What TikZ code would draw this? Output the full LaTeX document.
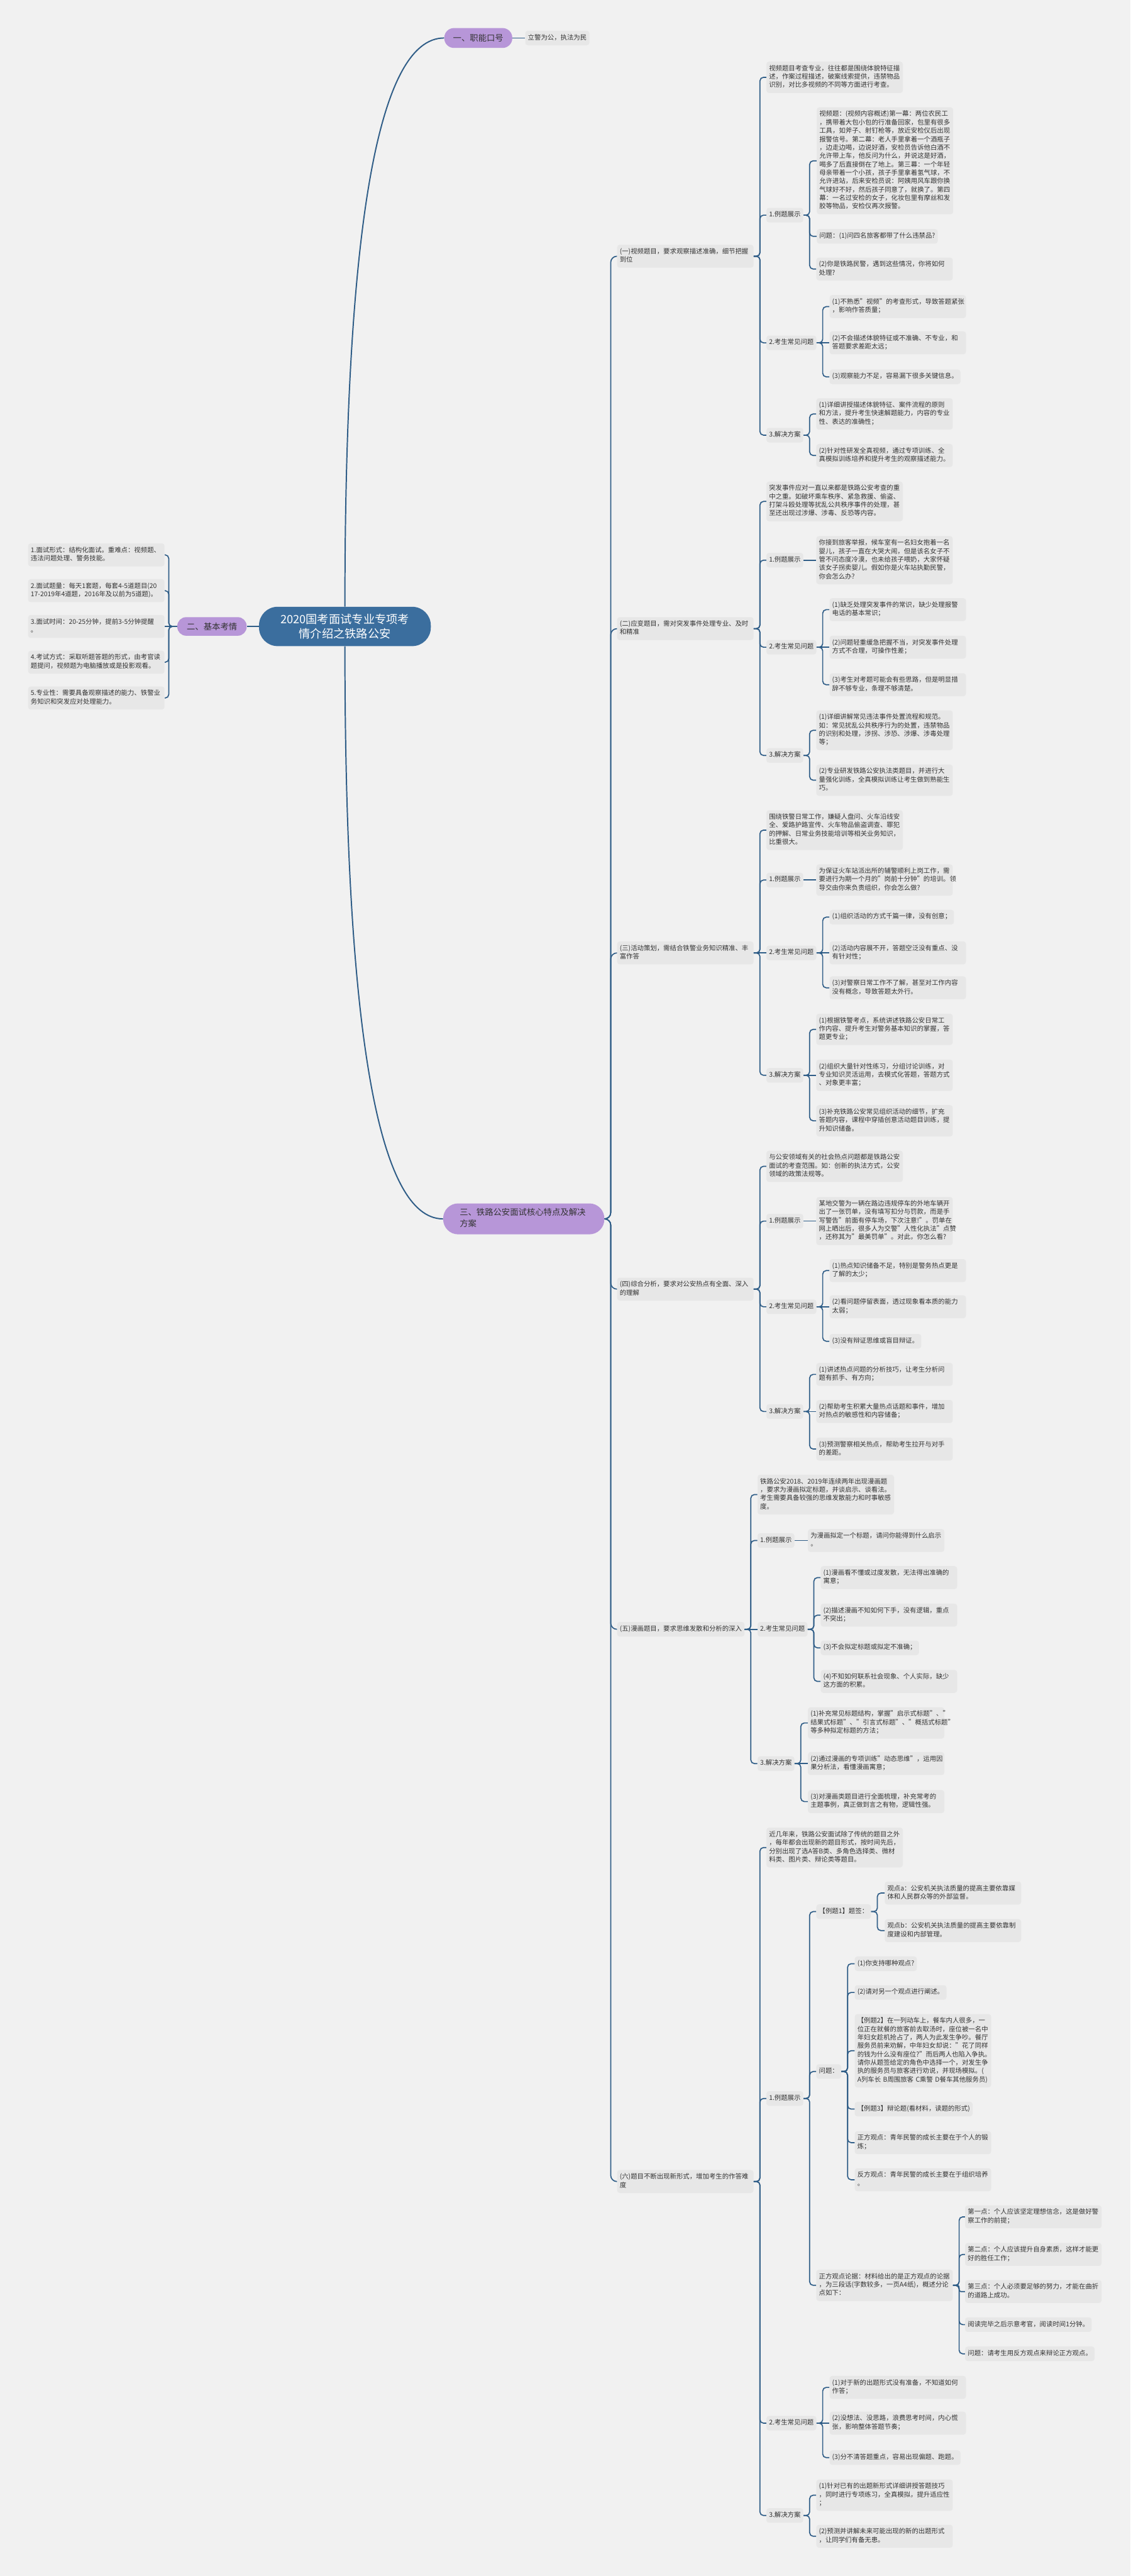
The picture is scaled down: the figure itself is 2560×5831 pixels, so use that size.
\documentclass[tikz,border=0pt]{standalone}
\usepackage{fontspec}
\setmainfont{Noto Sans CJK SC}
\usetikzlibrary{calc}
\definecolor{bgc}{HTML}{F1F1F1}
\definecolor{boxc}{HTML}{E7E7E7}
\definecolor{txtc}{HTML}{333333}
\definecolor{linec}{HTML}{2F5D87}
\definecolor{purpc}{HTML}{B796D8}
\definecolor{rootc}{HTML}{3B6E9E}
\newcommand{\conR}[3][4pt]{\draw[conn,rounded corners=#1] (#2.east) -- ++(14,0) |- (#3.west);}
\newcommand{\conS}[2]{\draw[conn] (#1.east) -- (#2.west);}
\newcommand{\conL}[2]{\draw[conn] (#1.west) -- ++(-19,0) |- (#2.east);}
\begin{document}
\begin{tikzpicture}[x=0.5pt,y=-0.5pt,
  box/.style={fill=boxc, rounded corners=3pt, inner xsep=3pt, inner ysep=3.5pt, align=left, text=txtc,
    font=\fontsize{7.4pt}{9.5pt}\selectfont, anchor=west,
    execute at begin node={\strut}, execute at end node={\strut}},
  wbox/.style={box, text width=148.5pt},
  branch/.style={fill=purpc, text=txtc, font=\fontsize{9.5pt}{12.5pt}\selectfont, align=center, inner sep=0pt},
  conn/.style={draw=linec, line width=1.2pt, rounded corners=4pt},
  rconn/.style={draw=linec, line width=1.4pt},
]
\useasboundingbox (0,0) rectangle (2560,5831);
\fill[bgc] (0,0) rectangle (2560,5831);

% ---------- root and main branches ----------
\node[fill=rootc, text=white, font=\fontsize{13pt}{16pt}\selectfont, align=center,
  minimum width=194.5pt, minimum height=44.5pt, rounded corners=21pt, inner sep=0pt]
  (root) at (781,1418) {2020国考面试专业专项考\\情介绍之铁路公安};
\node[branch, minimum width=77pt, minimum height=22.5pt, rounded corners=11pt] (b1) at (1083,86) {一、职能口号};
\node[branch, minimum width=78.5pt, minimum height=21pt, rounded corners=10pt] (b2) at (480,1418) {二、基本考情};
\node[branch, align=left, text width=145pt, inner xsep=18.75pt, minimum height=35pt, rounded corners=17pt,
  execute at begin node={\strut}, execute at end node={\strut}]
  (b3) at (1186,2759) {三、铁路公安面试核心特点及解决\\方案};

\coordinate (q1) at (root.north |- b1.west);
\coordinate (q3) at (root.south |- b3.west);
\draw[rconn] (root.north) .. controls ($(root.north)!0.6667!(q1)$) and ($(b1.west)!0.6667!(q1)$) .. (b1.west);
\draw[rconn] (root.south) .. controls ($(root.south)!0.6667!(q3)$) and ($(b3.west)!0.6667!(q3)$) .. (b3.west);
\draw[rconn] (root.west) -- (b2.east);

% ---------- branch one ----------
\node[box] (slogan) at (1189,86) {立警为公，执法为民};
\conS{b1}{slogan}

% ---------- branch two ----------
\node[wbox, anchor=east] (L1) at (373,1256) {1.面试形式：结构化面试。重难点：视频题、\\违法问题处理、警务技能。};
\node[wbox, anchor=east] (L2) at (373,1337) {2.面试题量：每天1套题，每套4-5道题目(20\\17-2019年4道题，2016年及以前为5道题)。};
\node[wbox, anchor=east] (L3) at (373,1418) {3.面试时间：20-25分钟，提前3-5分钟提醒\\。};
\node[wbox, anchor=east] (L4) at (373,1499) {4.考试方式：采取听题答题的形式，由考官读\\题提问，视频题为电脑播放或是投影观看。};
\node[wbox, anchor=east] (L5) at (373,1580) {5.专业性：需要具备观察描述的能力、铁警业\\务知识和突发应对处理能力。};
\conL{b2}{L1}
\conL{b2}{L2}
\draw[conn] (b2.west) -- (L3.east);
\conL{b2}{L4}
\conL{b2}{L5}

% ---------- section labels ----------
\node[wbox] (s1) at (1397,580) {(一)视频题目，要求观察描述准确，细节把握\\到位};
\node[wbox] (s2) at (1397,1423) {(二)应变题目，需对突发事件处理专业、及时\\和精准};
\node[wbox] (s3) at (1397,2157) {(三)活动策划，需结合铁警业务知识精准、丰\\富作答};
\node[wbox] (s4) at (1397,2918) {(四)综合分析，要求对公安热点有全面、深入\\的理解};
\node[box] (s5) at (1397,3688) {(五)漫画题目，要求思维发散和分析的深入};
\node[wbox] (s6) at (1397,4938) {(六)题目不断出现新形式，增加考生的作答难\\度};
\conR[7pt]{b3}{s1}
\conR[7pt]{b3}{s2}
\conR[7pt]{b3}{s3}
\conR[7pt]{b3}{s4}
\conR[7pt]{b3}{s5}
\conR[7pt]{b3}{s6}

% ---------- (一) ----------
\node[wbox] (a0) at (1735,175) {视频题目考查专业，往往都是围绕体貌特征描\\述，作案过程描述，破案线索提供，违禁物品\\识别，对比多视频的不同等方面进行考查。};
\node[box] (a1) at (1735,487) {1.例题展示};
\node[wbox] (a11) at (1849,364) {视频题：(视频内容概述)第一幕：两位农民工\\，携带着大包小包的行准备回家，包里有很多\\工具，如斧子、射钉枪等，放近安检仪后出现\\报警信号。第二幕：老人手里拿着一个酒瓶子\\，边走边喝，边说好酒，安检员告诉他白酒不\\允许带上车，他反问为什么，并说这是好酒，\\喝多了后直接倒在了地上。第三幕：一个年轻\\母亲带着一个小孩，孩子手里拿着氢气球，不\\允许进站，后来安检员说：阿姨用风车跟你换\\气球好不好，然后孩子同意了，就换了。第四\\幕：一名过安检的女子，化妆包里有摩丝和发\\胶等物品，安检仪再次报警。};
\node[box] (a12) at (1849,535) {问题：(1)问四名旅客都带了什么违禁品?};
\node[wbox] (a13) at (1848,609) {(2)你是铁路民警，遇到这些情况，你将如何\\处理?};
\node[box] (a2) at (1735,776) {2.考生常见问题};
\node[wbox] (a21) at (1878,694) {(1)不熟悉"视频"的考查形式，导致答题紧张\\，影响作答质量；};
\node[wbox] (a22) at (1878,776) {(2)不会描述体貌特征或不准确、不专业，和\\答题要求差距太远；};
\node[box] (a23) at (1878,853) {(3)观察能力不足，容易漏下很多关键信息。};
\node[box] (a3) at (1735,985) {3.解决方案};
\node[wbox] (a31) at (1848,937) {(1)详细讲授描述体貌特征、案件流程的原则\\和方法，提升考生快速解题能力，内容的专业\\性、表达的准确性；};
\node[wbox] (a32) at (1848,1031) {(2)针对性研发全真视频，通过专项训练、全\\真模拟训练培养和提升考生的观察描述能力。};
\conR{s1}{a0}
\conR{s1}{a1}
\conR{s1}{a2}
\conR{s1}{a3}
\conR{a1}{a11}
\conR{a1}{a12}
\conR{a1}{a13}
\conR{a2}{a21}
\conS{a2}{a22}
\conR{a2}{a23}
\conR{a3}{a31}
\conR{a3}{a32}

% ---------- (二) ----------
\node[wbox] (c0) at (1735,1135) {突发事件应对一直以来都是铁路公安考查的重\\中之重。如破坏乘车秩序、紧急救援、偷盗、\\打架斗殴处理等扰乱公共秩序事件的处理，甚\\至还出现过涉爆、涉毒、反恐等内容。};
\node[box] (c1) at (1735,1268) {1.例题展示};
\node[wbox] (c11) at (1848,1268) {你接到旅客举报，候车室有一名妇女抱着一名\\婴儿，孩子一直在大哭大闹，但是该名女子不\\管不问态度冷漠，也未给孩子喂奶，大家怀疑\\该女子拐卖婴儿。假如你是火车站执勤民警，\\你会怎么办?};
\node[box] (c2) at (1735,1465) {2.考生常见问题};
\node[wbox] (c21) at (1878,1380) {(1)缺乏处理突发事件的常识，缺少处理报警\\电话的基本常识；};
\node[wbox] (c22) at (1878,1465) {(2)问题轻重缓急把握不当，对突发事件处理\\方式不合理，可操作性差；};
\node[wbox] (c23) at (1878,1550) {(3)考生对考题可能会有些思路，但是明显措\\辞不够专业，条理不够清楚。};
\node[box] (c3) at (1735,1710) {3.解决方案};
\node[wbox] (c31) at (1848,1653) {(1)详细讲解常见违法事件处置流程和规范。\\如：常见扰乱公共秩序行为的处置，违禁物品\\的识别和处理，涉拐、涉恐、涉爆、涉毒处理\\等；};
\node[wbox] (c32) at (1848,1766) {(2)专业研发铁路公安执法类题目，并进行大\\量强化训练，全真模拟训练让考生做到熟能生\\巧。};
\conR{s2}{c0}
\conR{s2}{c1}
\conR{s2}{c2}
\conR{s2}{c3}
\conS{c1}{c11}
\conR{c2}{c21}
\conS{c2}{c22}
\conR{c2}{c23}
\conR{c3}{c31}
\conR{c3}{c32}

% ---------- (三) ----------
\node[wbox] (d0) at (1735,1879) {围绕铁警日常工作，嫌疑人盘问、火车沿线安\\全、爱路护路宣传、火车物品偷盗调查、罪犯\\的押解、日常业务技能培训等相关业务知识，\\比重很大。};
\node[box] (d1) at (1735,1992) {1.例题展示};
\node[wbox] (d11) at (1848,1992) {为保证火车站派出所的辅警顺利上岗工作，需\\要进行为期一个月的"岗前十分钟"的培训。领\\导交由你来负责组织，你会怎么做?};
\node[box] (d2) at (1735,2157) {2.考生常见问题};
\node[box] (d21) at (1878,2076) {(1)组织活动的方式千篇一律，没有创意；};
\node[wbox] (d22) at (1878,2157) {(2)活动内容展不开，答题空泛没有重点、没\\有针对性；};
\node[wbox] (d23) at (1878,2236) {(3)对警察日常工作不了解，甚至对工作内容\\没有概念，导致答题太外行。};
\node[box] (d3) at (1735,2434) {3.解决方案};
\node[wbox] (d31) at (1848,2330) {(1)根据铁警考点，系统讲述铁路公安日常工\\作内容、提升考生对警务基本知识的掌握，答\\题更专业；};
\node[wbox] (d32) at (1848,2434) {(2)组织大量针对性练习，分组讨论训练，对\\专业知识灵活运用，去模式化答题，答题方式\\、对象更丰富；};
\node[wbox] (d33) at (1848,2537) {(3)补充铁路公安常见组织活动的细节，扩充\\答题内容，课程中穿插创意活动题目训练，提\\升知识储备。};
\conR{s3}{d0}
\conR{s3}{d1}
\conS{s3}{d2}
\conR{s3}{d3}
\conS{d1}{d11}
\conR{d2}{d21}
\conS{d2}{d22}
\conR{d2}{d23}
\conR{d3}{d31}
\conS{d3}{d32}
\conR{d3}{d33}

% ---------- (四) ----------
\node[wbox] (e0) at (1735,2640) {与公安领域有关的社会热点问题都是铁路公安\\面试的考查范围。如：创新的执法方式，公安\\领域的政策法规等。};
\node[box] (e1) at (1735,2764) {1.例题展示};
\node[wbox] (e11) at (1848,2764) {某地交警为一辆在路边违规停车的外地车辆开\\出了一张罚单，没有填写扣分与罚款，而是手\\写警告"前面有停车场，下次注意!"。罚单在\\网上晒出后，很多人为交警"人性化执法"点赞\\，还称其为"最美罚单"。对此，你怎么看?};
\node[box] (e2) at (1735,2958) {2.考生常见问题};
\node[wbox] (e21) at (1878,2876) {(1)热点知识储备不足，特别是警务热点更是\\了解的太少；};
\node[wbox] (e22) at (1878,2958) {(2)看问题停留表面，透过现象看本质的能力\\太弱；};
\node[box] (e23) at (1878,3036) {(3)没有辩证思维或盲目辩证。};
\node[box] (e3) at (1735,3195) {3.解决方案};
\node[wbox] (e31) at (1848,3111) {(1)讲述热点问题的分析技巧，让考生分析问\\题有抓手、有方向；};
\node[wbox] (e32) at (1848,3195) {(2)帮助考生积累大量热点话题和事件，增加\\对热点的敏感性和内容储备；};
\node[wbox] (e33) at (1848,3280) {(3)预测警察相关热点，帮助考生拉开与对手\\的差距。};
\conR{s4}{e0}
\conR{s4}{e1}
\conR{s4}{e2}
\conR{s4}{e3}
\conS{e1}{e11}
\conR{e2}{e21}
\conS{e2}{e22}
\conR{e2}{e23}
\conR{e3}{e31}
\conS{e3}{e32}
\conR{e3}{e33}

% ---------- (五) ----------
\node[wbox] (f0) at (1715,3383) {铁路公安2018、2019年连续两年出现漫画题\\，要求为漫画拟定标题，并谈启示、谈看法。\\考生需要具备较强的思维发散能力和时事敏感\\度。};
\node[box] (f1) at (1715,3487) {1.例题展示};
\node[wbox] (f11) at (1829,3487) {为漫画拟定一个标题，请问你能得到什么启示\\。};
\node[box] (f2) at (1715,3688) {2.考生常见问题};
\node[wbox] (f21) at (1858,3571) {(1)漫画看不懂或过度发散，无法得出准确的\\寓意；};
\node[wbox] (f22) at (1858,3656) {(2)描述漫画不知如何下手，没有逻辑，重点\\不突出；};
\node[box] (f23) at (1858,3730) {(3)不会拟定标题或拟定不准确；};
\node[wbox] (f24) at (1858,3806) {(4)不知如何联系社会现象、个人实际，缺少\\这方面的积累。};
\node[box] (f3) at (1715,3992) {3.解决方案};
\node[wbox] (f31) at (1829,3900) {(1)补充常见标题结构，掌握"启示式标题"、"\\结果式标题"、"引言式标题"、"概括式标题"\\等多种拟定标题的方法；};
\node[wbox] (f32) at (1829,3992) {(2)通过漫画的专项训练"动态思维"，运用因\\果分析法，看懂漫画寓意；};
\node[wbox] (f33) at (1829,4078) {(3)对漫画类题目进行全面梳理，补充常考的\\主题事例，真正做到言之有物，逻辑性强。};
\conR{s5}{f0}
\conR{s5}{f1}
\conS{s5}{f2}
\conR{s5}{f3}
\conS{f1}{f11}
\conR{f2}{f21}
\conR{f2}{f22}
\conR{f2}{f23}
\conR{f2}{f24}
\conR{f3}{f31}
\conS{f3}{f32}
\conR{f3}{f33}

% ---------- (六) ----------
\node[wbox] (g0) at (1735,4182) {近几年来，铁路公安面试除了传统的题目之外\\，每年都会出现新的题目形式，按时间先后，\\分别出现了选A答B类、多角色选择类、微材\\料类、图片类、辩论类等题目。};
\node[box] (g1) at (1735,4750) {1.例题展示};
\node[box] (g11) at (1848,4327) {【例题1】题签：};
\node[wbox] (g111) at (2003,4285) {观点a：公安机关执法质量的提高主要依靠媒\\体和人民群众等的外部监督。};
\node[wbox] (g112) at (2003,4370) {观点b：公安机关执法质量的提高主要依靠制\\度建设和内部管理。};
\node[box] (g12) at (1848,4689) {问题：};
\node[box] (g121) at (1935,4445) {(1)你支持哪种观点?};
\node[box] (g122) at (1935,4510) {(2)请对另一个观点进行阐述。};
\node[wbox] (g123) at (1935,4642) {【例题2】在一列动车上，餐车内人很多，一\\位正在就餐的旅客前去取汤时，座位被一名中\\年妇女趁机抢占了，两人为此发生争吵。餐厅\\服务员前来劝解，中年妇女却说："花了同样\\的钱为什么没有座位?"而后两人也陷入争执。\\请你从题签给定的角色中选择一个，对发生争\\执的服务员与旅客进行劝说，并现场模拟。(\\A列车长 B周围旅客 C乘警 D餐车其他服务员)};
\node[box] (g124) at (1935,4774) {【例题3】辩论题(看材料，读题的形式)};
\node[wbox] (g125) at (1935,4850) {正方观点：青年民警的成长主要在于个人的锻\\炼；};
\node[wbox] (g126) at (1935,4934) {反方观点：青年民警的成长主要在于组织培养\\。};
\node[wbox] (g13) at (1848,5173) {正方观点论据：材料给出的是正方观点的论据\\，为三段话(字数较多，一页A4纸)，概述分论\\点如下：};
\node[wbox] (g131) at (2185,5018) {第一点：个人应该坚定理想信念，这是做好警\\察工作的前提；};
\node[wbox] (g132) at (2185,5103) {第二点：个人应该提升自身素质，这样才能更\\好的胜任工作；};
\node[wbox] (g133) at (2185,5187) {第三点：个人必须要足够的努力，才能在曲折\\的道路上成功。};
\node[box] (g134) at (2185,5262) {阅读完毕之后示意考官，阅读时间1分钟。};
\node[box] (g135) at (2185,5328) {问题：请考生用反方观点来辩论正方观点。};
\node[box] (g2) at (1735,5485) {2.考生常见问题};
\node[wbox] (g21) at (1878,5404) {(1)对于新的出题形式没有准备，不知道如何\\作答；};
\node[wbox] (g22) at (1878,5485) {(2)没想法、没思路，浪费思考时间，内心慌\\张，影响整体答题节奏；};
\node[box] (g23) at (1878,5563) {(3)分不清答题重点，容易出现偏题、跑题。};
\node[box] (g3) at (1735,5694) {3.解决方案};
\node[wbox] (g31) at (1848,5648) {(1)针对已有的出题新形式详细讲授答题技巧\\，同时进行专项练习，全真模拟，提升适应性\\；};
\node[wbox] (g32) at (1848,5741) {(2)预测并讲解未来可能出现的新的出题形式\\，让同学们有备无患。};
\conR{s6}{g0}
\conR{s6}{g1}
\conR{s6}{g2}
\conR{s6}{g3}
\conR{g1}{g11}
\conR{g1}{g12}
\conR{g1}{g13}
\conR{g11}{g111}
\conR{g11}{g112}
\conR{g12}{g121}
\conR{g12}{g122}
\conR{g12}{g123}
\conR{g12}{g124}
\conR{g12}{g125}
\conR{g12}{g126}
\conR{g13}{g131}
\conR{g13}{g132}
\conR[2pt]{g13}{g133}
\conR{g13}{g134}
\conR{g13}{g135}
\conR{g2}{g21}
\conS{g2}{g22}
\conR{g2}{g23}
\conR{g3}{g31}
\conR{g3}{g32}
\end{tikzpicture}
\end{document}
